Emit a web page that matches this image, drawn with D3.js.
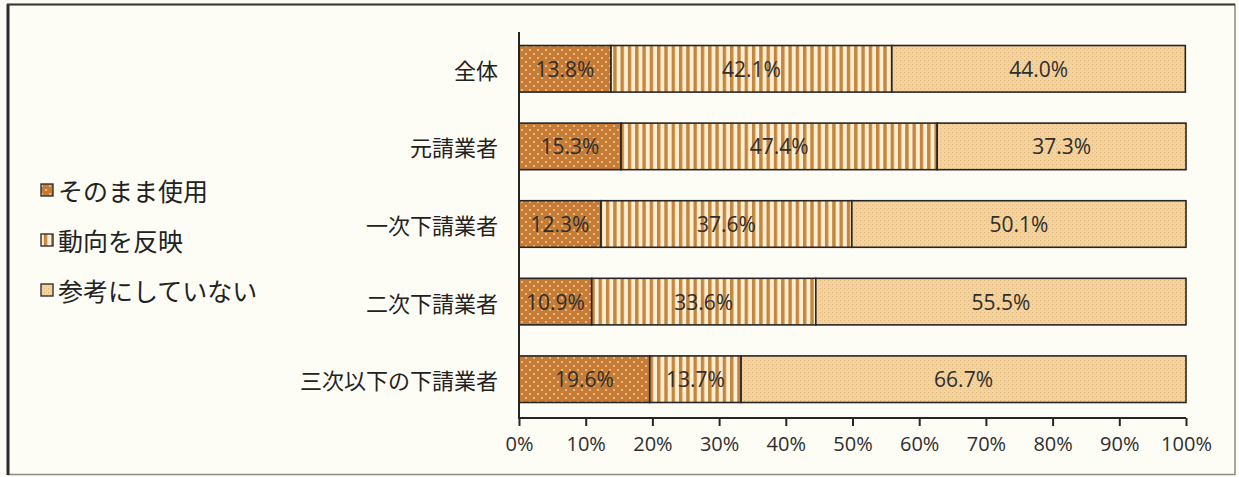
<!DOCTYPE html>
<html>
<head>
<meta charset="utf-8">
<script src="https://cdn.jsdelivr.net/npm/d3@7"></script>
<style>
  html, body { margin: 0; padding: 0; background: #fdfcf5; }
  svg { display: block; }
</style>
</head>
<body>
<svg id="chart" width="1239" height="477"></svg>
<script>
// Survey answers by contractor tier (percent of respondents)
const categories = ["全体", "元請業者", "一次下請業者", "二次下請業者", "三次以下の下請業者"];
const seriesNames = ["そのまま使用", "動向を反映", "参考にしていない"];
const useAsIs = [13.8, 15.3, 12.3, 10.9, 19.6];
const reflectTrend = [42.1, 47.4, 37.6, 33.6, 13.7];
const notReferenced = [44.0, 37.3, 50.1, 55.5, 66.7];
const tickValues = [0, 10, 20, 30, 40, 50, 60, 70, 80, 90, 100];

const rows = categories.map((c, i) => ({
  category: c,
  s0: useAsIs[i],
  s1: reflectTrend[i],
  s2: notReferenced[i]
}));
const keys = ["s0", "s1", "s2"];

const svg = d3.select("#chart");
const W = 1239, H = 477;

// page background and frame
svg.append("rect").attr("width", W).attr("height", H).attr("fill", "#fdfcf5");
svg.append("rect")
  .attr("x", 8).attr("y", 4.5).attr("width", 1227).attr("height", 470)
  .attr("fill", "none").attr("stroke", "#8a8a8a").attr("stroke-width", 1.5);
svg.append("line").attr("x1", 8).attr("x2", 8).attr("y1", 4).attr("y2", 475)
  .attr("stroke", "#2a2a2a").attr("stroke-width", 3);
svg.append("line").attr("x1", 7).attr("x2", 1235).attr("y1", 4.5).attr("y2", 4.5)
  .attr("stroke", "#3a3a3a").attr("stroke-width", 2);

// fill patterns for the three answers
const defs = svg.append("defs");

const p0 = defs.append("pattern").attr("id", "pat0")
  .attr("patternUnits", "userSpaceOnUse").attr("width", 8).attr("height", 8);
p0.append("rect").attr("width", 8).attr("height", 8).attr("fill", "#c67c34");
p0.append("circle").attr("cx", 2).attr("cy", 2).attr("r", 0.9).attr("fill", "#f7d6ac");
p0.append("circle").attr("cx", 6).attr("cy", 6).attr("r", 0.9).attr("fill", "#f7d6ac");

const p1 = defs.append("pattern").attr("id", "pat1")
  .attr("patternUnits", "userSpaceOnUse").attr("width", 7.3).attr("height", 10);
p1.append("rect").attr("width", 7.3).attr("height", 10).attr("fill", "#fcefd6");
p1.append("rect").attr("x", 0).attr("width", 3.4).attr("height", 10).attr("fill", "#c6853a");

const p2 = defs.append("pattern").attr("id", "pat2")
  .attr("patternUnits", "userSpaceOnUse").attr("width", 4).attr("height", 4);
p2.append("rect").attr("width", 4).attr("height", 4).attr("fill", "#f4d5a2");
p2.append("rect").attr("x", 0).attr("y", 0).attr("width", 1.2).attr("height", 1.2).attr("fill", "#e2b677");
p2.append("rect").attr("x", 2).attr("y", 2).attr("width", 1.2).attr("height", 1.2).attr("fill", "#e8c28c");

const fills = { s0: "url(#pat0)", s1: "url(#pat1)", s2: "url(#pat2)" };

// scales
const x = d3.scaleLinear().domain([0, 100]).range([519, 1186]);
const y = d3.scaleBand().domain(categories).range([30, 418])
  .paddingInner(0.4).paddingOuter(0.2);

const stack = d3.stack().keys(keys);
const layers = stack(rows);

const numFont = "'Open Sans', 'Liberation Sans', sans-serif";
const jpFont = "'Noto Sans CJK JP', 'Noto Sans', sans-serif";

// bars
const g = svg.append("g");
layers.forEach(layer => {
  g.selectAll(null)
    .data(layer)
    .join("rect")
    .attr("x", d => x(d[0]))
    .attr("y", d => y(d.data.category))
    .attr("width", d => x(d[1]) - x(d[0]))
    .attr("height", y.bandwidth())
    .attr("fill", fills[layer.key])
    .attr("stroke", "#262626")
    .attr("stroke-width", 1.6);
});

// value labels
layers.forEach(layer => {
  g.selectAll(null)
    .data(layer)
    .join("text")
    .attr("x", d => (x(d[0]) + x(d[1])) / 2)
    .attr("y", d => y(d.data.category) + y.bandwidth() / 2)
    .attr("text-anchor", "middle")
    .attr("dominant-baseline", "central")
    .attr("font-family", numFont)
    .attr("font-size", 21)
    .attr("fill", "#2e2e2e")
    .text(d => (d[1] - d[0]).toFixed(1) + "%");
});

// x axis
const xAxis = d3.axisBottom(x)
  .tickValues(tickValues)
  .tickFormat(d => d + "%")
  .tickSize(8)
  .tickPadding(11);
const ax = svg.append("g").attr("transform", "translate(0,418)").call(xAxis);
ax.select(".domain").attr("stroke", "#262626").attr("stroke-width", 2)
  .attr("d", "M519,0H1186");
ax.selectAll(".tick line").attr("stroke", "#262626").attr("stroke-width", 2);
ax.selectAll(".tick text")
  .attr("font-family", numFont).attr("font-size", 20).attr("fill", "#2e2e2e");

// category axis
svg.append("line")
  .attr("x1", 519).attr("x2", 519).attr("y1", 32).attr("y2", 419)
  .attr("stroke", "#262626").attr("stroke-width", 2);
svg.append("g").selectAll("text")
  .data(categories)
  .join("text")
  .attr("x", 498)
  .attr("y", d => y(d) + y.bandwidth() / 2)
  .attr("text-anchor", "end")
  .attr("dominant-baseline", "central")
  .attr("font-family", jpFont)
  .attr("font-size", 22)
  .attr("font-weight", 400)
  .attr("fill", "#222")
  .text(d => d);

// legend
const legendY = d3.scalePoint().domain(keys).range([190, 290]);
const lg = svg.append("g");
keys.forEach((k, i) => {
  lg.append("rect")
    .attr("x", 41).attr("y", legendY(k) - 6)
    .attr("width", 12).attr("height", 12)
    .attr("fill", fills[k]).attr("stroke", "#333").attr("stroke-width", 1.4);
  lg.append("text")
    .attr("x", 58).attr("y", legendY(k))
    .attr("dominant-baseline", "central")
    .attr("font-family", jpFont)
    .attr("font-size", 25)
    .attr("font-weight", 400)
    .attr("fill", "#222")
    .text(seriesNames[i]);
});
</script>
</body>
</html>
